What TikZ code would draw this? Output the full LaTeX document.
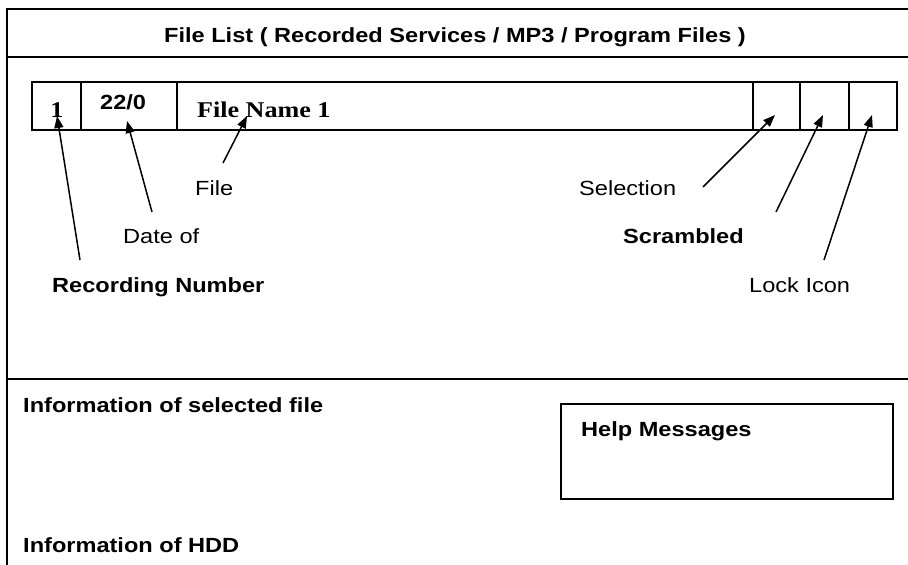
\documentclass[tikz,border=0pt]{standalone}
\usepackage{fontspec}
\usetikzlibrary{arrows.meta}
\newfontfamily\labfont[FakeStretch=1.15]{Liberation Sans}
\newfontfamily\serfont[FakeStretch=1.16]{Liberation Serif}
\tikzset{
  frame/.style={line width=2pt, line cap=rect},
  cellbox/.style={draw, line width=2pt, minimum height=48pt, inner sep=0pt, anchor=north west},
  lab/.style={inner sep=0pt, anchor=base west, font=\labfont\fontsize{20.5}{24}\selectfont},
  blab/.style={lab, font=\labfont\bfseries\fontsize{20.5}{24}\selectfont},
  slab/.style={inner sep=0pt, anchor=base west, font=\serfont\bfseries\fontsize{22.5}{26}\selectfont},
  pointer/.style={line width=1.5pt, -{Triangle[length=12pt,width=9pt]}},
}
\begin{document}
\begin{tikzpicture}[x=1pt,y=-1pt]
\useasboundingbox (0,0) rectangle (908,565);
% outer frame lines
\draw[frame] (7,9) -- (910,9);
\draw[frame] (7,9) -- (7,567);
\draw[frame] (7,57) -- (910,57);
\draw[frame] (7,379) -- (910,379);
% title
\node[blab, anchor=base] (title) at (455,42) {File List ( Recorded Services / MP3 / Program Files )};
% row cells
\node[cellbox, minimum width=49pt] (c1) at (31,81) {};
\node[cellbox, minimum width=96pt] (c2) at (80,81) {};
\node[cellbox, minimum width=576pt] (c3) at (176,81) {};
\node[cellbox, minimum width=47pt] (c4) at (752,81) {};
\node[cellbox, minimum width=49pt] (c5) at (799,81) {};
\node[cellbox, minimum width=48pt] (c6) at (848,81) {};
% row texts
\node[slab, anchor=base] (num) at (57,117) {1};
\node[blab] (date) at (100,109) {22/0};
\node[slab] (fname) at (197,117) {File Name 1};
% labels
\node[lab] (lfile) at (195,195) {File};
\node[lab] (ldate) at (123,243) {Date of};
\node[blab] (lrec) at (52,292) {Recording Number};
\node[lab] (lsel) at (579,195) {Selection};
\node[blab] (lscr) at (623,243) {Scrambled};
\node[lab] (llock) at (749,292) {Lock Icon};
% arrow coordinates
\coordinate (s1) at (80,260);  \coordinate (t1) at (57,116);
\coordinate (s2) at (152,212); \coordinate (t2) at (127,121);
\coordinate (s3) at (223,163); \coordinate (t3) at (247,116);
\coordinate (s4) at (703,187); \coordinate (t4) at (775,115);
\coordinate (s5) at (776,212); \coordinate (t5) at (823,115);
\coordinate (s6) at (824,260); \coordinate (t6) at (872,115);
\draw[pointer] (s1) -- (t1);
\draw[pointer] (s2) -- (t2);
\draw[pointer] (s3) -- (t3);
\draw[pointer] (s4) -- (t4);
\draw[pointer] (s5) -- (t5);
\draw[pointer] (s6) -- (t6);
% lower part
\node[blab] (info) at (23,412) {Information of selected file};
\node[draw, line width=2pt, minimum width=332pt, minimum height=95pt, inner sep=0pt, anchor=north west] (help) at (560,403) {};
\node[blab] (helpt) at (581,436) {Help Messages};
\node[blab] (hdd) at (23,552) {Information of HDD};
\end{tikzpicture}
\end{document}
